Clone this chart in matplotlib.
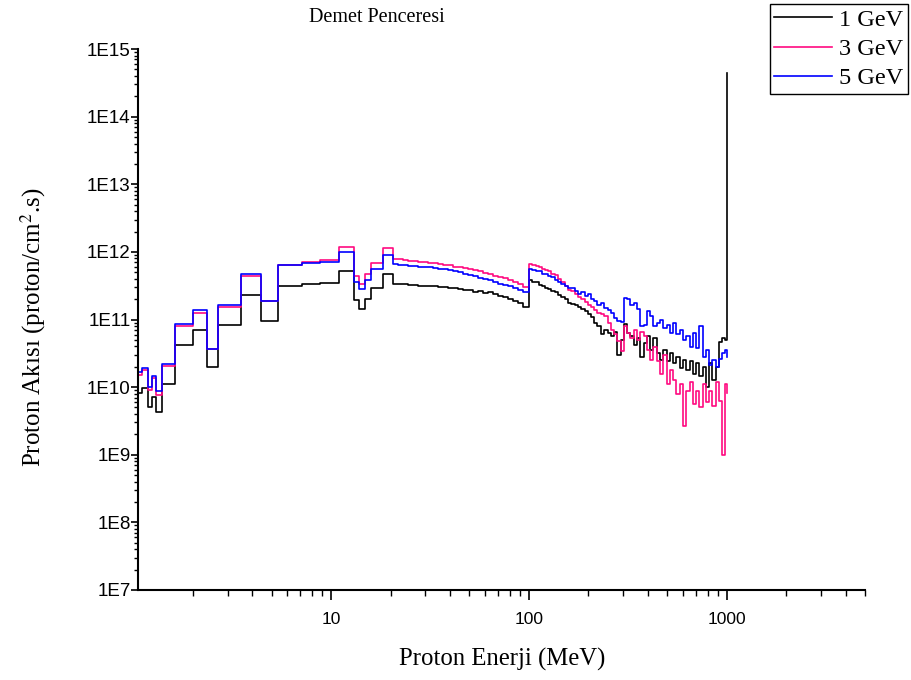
import numpy as np
import matplotlib
matplotlib.use("Agg")
import matplotlib.pyplot as plt
from matplotlib.ticker import LogLocator, NullFormatter, FixedLocator, FixedFormatter

# ---------------- data (bin left edges in MeV, flux as log10) ----------------
energy_low = [1.0, 1.11, 1.18, 1.24, 1.30, 1.40, 1.62, 2.0, 2.35, 2.67, 3.5,
              4.4, 5.4, 7.1, 8.8, 11.0, 13.0, 13.9, 14.9, 15.9, 18.2]
energy_mid = [20.5, 21.7, 23.0, 24.4, 25.9, 27.5, 29.1, 30.9, 32.7, 34.7,
              36.8, 39.0, 41.3, 43.8, 46.4, 49.2, 52.2, 55.3, 58.6, 62.1,
              65.8, 69.8, 74.0, 78.4, 83.1, 88.1, 93.4]
energy_high = [100, 104, 108, 112, 116, 120, 125, 130, 135, 140, 146, 152,
               158, 164, 170, 177, 184, 191, 198, 206, 214, 222, 231, 240,
               250, 260, 270, 280, 291, 302, 314, 326, 339, 352, 366, 380,
               395, 410, 426, 443, 460, 478, 497, 516, 536, 557, 579, 601,
               625, 649, 674, 700, 727, 755, 784, 815, 846, 879, 913, 948,
               985, 1000]

# 1 GeV (black)
log_flux_1gev = [
    9.92, 9.98, 9.70, 9.85, 9.63, 10.04, 10.63, 10.84, 10.30, 10.92, 11.36,
    10.98, 11.49, 11.52, 11.54, 11.72, 11.29, 11.15, 11.30, 11.47, 11.68,
    11.53, 11.52, 11.52, 11.51, 11.51, 11.50, 11.50, 11.49, 11.49, 11.48,
    11.48, 11.47, 11.46, 11.45, 11.44, 11.43, 11.41, 11.42, 11.39, 11.40,
    11.37, 11.35, 11.33, 11.31, 11.28, 11.24, 11.18,
    11.58, 11.56, 11.55, 11.51, 11.50, 11.47, 11.45, 11.42, 11.40, 11.36,
    11.33, 11.30, 11.25, 11.23, 11.21, 11.18, 11.15, 11.12, 11.08, 11.03,
    10.95, 10.90, 10.78, 10.85, 10.80, 10.76, 10.82, 10.48, 10.70, 10.93,
    10.80, 10.75, 10.62, 10.72, 10.45, 10.65, 10.75, 10.55, 10.72, 10.50,
    10.40, 10.55, 10.38, 10.50, 10.36, 10.45, 10.28, 10.40, 10.26, 10.38,
    10.20, 10.35, 10.16, 10.30, 10.00, 10.36, 10.10, 10.30, 10.66, 10.72,
    10.70, 14.65]

# 3 GeV (pink)
log_flux_3gev = [
    10.18, 10.25, 9.96, 10.13, 9.89, 10.31, 10.90, 11.10, 10.56, 11.19, 11.64,
    11.27, 11.80, 11.85, 11.88, 12.07, 11.64, 11.53, 11.68, 11.84, 12.05,
    11.90, 11.89, 11.88, 11.87, 11.86, 11.85, 11.85, 11.84, 11.83, 11.82,
    11.81, 11.80, 11.78, 11.77, 11.76, 11.74, 11.73, 11.71, 11.69, 11.67,
    11.65, 11.63, 11.61, 11.58, 11.56, 11.53, 11.48,
    11.82, 11.80, 11.79, 11.77, 11.75, 11.73, 11.71, 11.68, 11.66, 11.60,
    11.56, 11.50, 11.44, 11.42, 11.38, 11.33, 11.31, 11.26, 11.22, 11.18,
    11.14, 11.10, 11.08, 11.05, 10.95, 10.85, 10.78, 10.68, 10.53, 10.90,
    10.80, 10.72, 10.85, 10.70, 10.82, 10.75, 10.55, 10.40, 10.60, 10.38,
    10.20, 10.48, 10.05, 10.25, 10.10, 9.90, 10.05, 9.42, 9.95, 10.08,
    9.75, 9.95, 9.70, 10.05, 9.78, 9.95, 9.72, 10.08, 9.80, 9.00,
    10.05, 9.92]

# 5 GeV (blue)
log_flux_5gev = [
    10.22, 10.29, 10.00, 10.16, 9.94, 10.34, 10.93, 11.14, 10.57, 11.21, 11.67,
    11.27, 11.80, 11.83, 11.85, 12.00, 11.55, 11.45, 11.58, 11.74, 11.96,
    11.82, 11.81, 11.80, 11.79, 11.79, 11.78, 11.77, 11.77, 11.76, 11.75,
    11.74, 11.73, 11.71, 11.70, 11.68, 11.66, 11.64, 11.62, 11.60, 11.58,
    11.56, 11.53, 11.51, 11.49, 11.46, 11.43, 11.40,
    11.75, 11.73, 11.72, 11.71, 11.68, 11.67, 11.64, 11.63, 11.58, 11.55,
    11.53, 11.50, 11.46, 11.47, 11.42, 11.38, 11.40, 11.35, 11.38, 11.30,
    11.28, 11.22, 11.25, 11.17, 11.14, 11.10, 11.02, 10.98, 10.97, 11.32,
    11.30, 11.22, 11.25, 11.15, 10.90, 10.92, 11.12, 11.05, 10.90, 10.95,
    11.00, 10.88, 10.92, 10.80, 10.95, 10.78, 10.85, 10.70, 10.75, 10.60,
    10.80, 10.58, 10.90, 10.45, 10.55, 10.32, 10.40, 10.30, 10.42, 10.50,
    10.55, 10.45]

series_labels = ["1 GeV", "3 GeV", "5 GeV"]
series_colors = ["#000000", "#FF0A80", "#0000FF"]

energy = np.array(energy_low + energy_mid + energy_high)
fluxes = [10.0 ** np.array(v) for v in (log_flux_1gev, log_flux_3gev, log_flux_5gev)]

# ---------------- figure ----------------
plt.rcParams['mathtext.fontset'] = 'stix'
W, H = 911, 680
fig = plt.figure(figsize=(W / 100, H / 100), dpi=100)
ax = fig.add_axes([137.5 / W, 1 - 590 / H, (865 - 137.5) / W, (590 - 49) / H])

handles = []
for flux, lab, col in zip(fluxes, series_labels, series_colors):
    h, = ax.step(energy, flux, where='post', color=col, lw=1.2, label=lab)
    handles.append(h)

ax.set_xscale('log')
ax.set_yscale('log')
ax.set_xlim(1.05, 5000)
ax.set_ylim(1e7, 1e15)

for s in ('top', 'right'):
    ax.spines[s].set_visible(False)
for s in ('left', 'bottom'):
    ax.spines[s].set_linewidth(1.5)

ytick_vals = [1e7, 1e8, 1e9, 1e10, 1e11, 1e12, 1e13, 1e14, 1e15]
ytick_labels = ["1E7", "1E8", "1E9", "1E10", "1E11", "1E12", "1E13", "1E14", "1E15"]
ax.yaxis.set_major_locator(FixedLocator(ytick_vals))
ax.yaxis.set_major_formatter(FixedFormatter(ytick_labels))
ax.yaxis.set_minor_locator(LogLocator(base=10, subs=np.arange(2, 10), numticks=30))
ax.yaxis.set_minor_formatter(NullFormatter())

xtick_vals = [10, 100, 1000]
xtick_labels = ["10", "100", "1000"]
ax.xaxis.set_major_locator(FixedLocator(xtick_vals))
ax.xaxis.set_major_formatter(FixedFormatter(xtick_labels))
ax.xaxis.set_minor_locator(LogLocator(base=10, subs=np.arange(2, 10), numticks=30))
ax.xaxis.set_minor_formatter(NullFormatter())

ax.tick_params(axis='y', which='major', direction='out', length=5, width=1.2, pad=0,
               labelsize=13.5, labelfontfamily='Liberation Sans')
ax.tick_params(axis='y', which='minor', direction='out', length=3, width=1.0)
ax.tick_params(axis='x', which='major', direction='out', length=7, width=1.2, pad=9,
               labelsize=12.5, labelfontfamily='Liberation Sans')
ax.tick_params(axis='x', which='minor', direction='out', length=4, width=1.0)

serif = 'Liberation Serif'
fig.text(377 / W, 1 - 18 / H, "Demet Penceresi", ha='center', va='center',
         fontsize=14.5, family=serif)
fig.text(502 / W, 1 - 659 / H, "Proton Enerji (MeV)", ha='center', va='center',
         fontsize=17.8, family=serif)
fig.text(33 / W, 1 - 327 / H, r"Proton Akısı (proton/cm$^2$.s)", ha='center',
         va='center', rotation=90, fontsize=18, family=serif)

leg = fig.legend(handles=handles, labels=series_labels, loc='upper right',
                 bbox_to_anchor=(908 / W, 1 - 4 / H), bbox_transform=fig.transFigure,
                 prop={'family': serif, 'size': 17.5}, frameon=True, fancybox=False,
                 edgecolor='black', framealpha=1, handlelength=2.35,
                 handletextpad=0.3, labelspacing=0.3, borderpad=0.2,
                 borderaxespad=0)
leg.get_frame().set_linewidth(1.0)

fig.savefig("out.png", dpi=100)
